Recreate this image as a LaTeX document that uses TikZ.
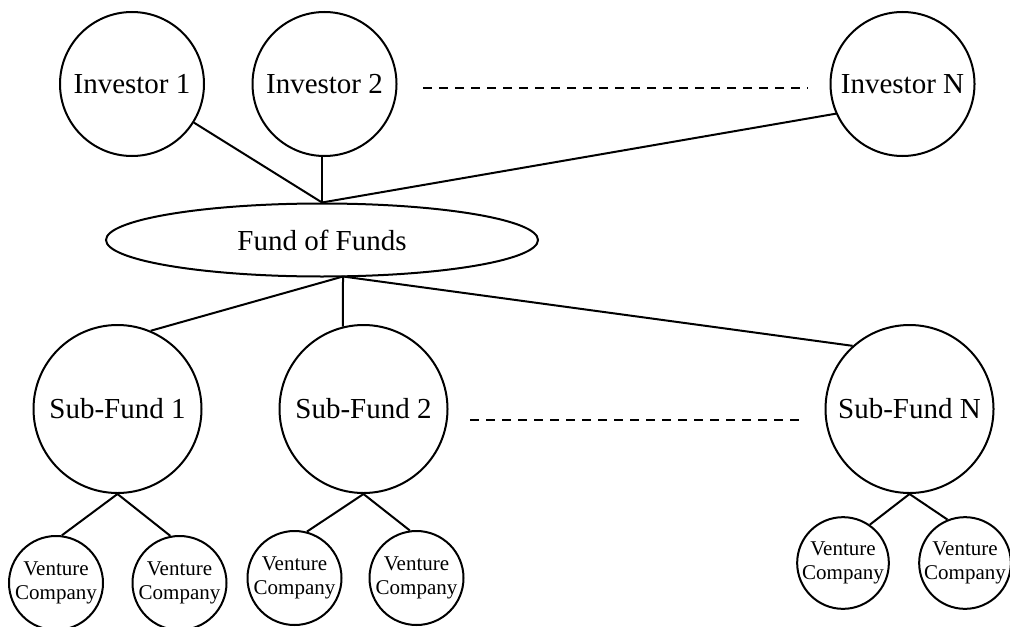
\documentclass[tikz,border=0pt]{standalone}
\usepackage{fontspec}
\setmainfont{Liberation Serif}
\usetikzlibrary{shapes.geometric,positioning}

\begin{document}
\begin{tikzpicture}[
    x=0.5pt, y=-0.5pt,
    investor/.style={circle, draw, line width=1pt, minimum size=72pt, inner sep=0pt, font=\fontsize{14.5}{17}\selectfont},
    subfund/.style={circle, draw, line width=1pt, minimum size=84pt, inner sep=0pt, font=\fontsize{14.5}{17}\selectfont},
    fund/.style={ellipse, draw, line width=1pt, minimum width=216pt, minimum height=36.5pt, inner sep=0pt, font=\fontsize{14.5}{17}\selectfont},
    venture/.style={circle, draw, line width=1pt, minimum size=47pt, inner sep=0pt, align=center, font=\fontsize{10.5}{12}\selectfont},
    link/.style={line width=1pt},
    dots/.style={line width=1pt, dash pattern=on 4.5pt off 3.5pt}
]
    \useasboundingbox (0,0) rectangle (1010,626);

    % --- Investors ---
    \node[investor] (inv1) at (132,84) {Investor 1};
    \node[investor] (inv2) at (324.5,84) {Investor 2};
    \node[investor] (invN) at (902.5,84) {Investor N};

    % --- Fund of Funds ---
    \node[fund] (fof) at (322,240) {Fund of Funds};
    \coordinate (hub-low) at (343,276.5);

    % --- Sub-Funds ---
    \node[subfund] (sf1) at (117.5,409) {Sub-Fund 1};
    \node[subfund] (sf2) at (363.5,409) {Sub-Fund 2};
    \node[subfund] (sfN) at (909.5,409) {Sub-Fund N};

    % --- Venture Companies ---
    \node[venture] (vc11) at (56,583) {Venture\\Company};
    \node[venture] (vc12) at (179.5,583) {Venture\\Company};
    \node[venture] (vc21) at (294.5,578) {Venture\\Company};
    \node[venture] (vc22) at (416.5,578) {Venture\\Company};
    \node[venture, minimum size=45pt] (vcN1) at (843,563) {Venture\\Company};
    \node[venture, minimum size=45pt] (vcN2) at (965,563) {Venture\\Company};

    % --- Connections ---
    \draw[link] (inv1) -- (fof.north);
    \draw[link] (fof.north |- inv2.south) -- (fof.north);
    \draw[link] (invN.204) -- (fof.north);

    \draw[link] (hub-low) -- (sf1.67);
    \draw[link] (hub-low) -- (sf2.104);
    \draw[link] (hub-low) -- (sfN.132);

    \draw[link] (sf1.south) -- (vc11.83);
    \draw[link] (sf1.south) -- (vc12.101);
    \draw[link] (sf2.south) -- (vc21.75);
    \draw[link] (sf2.south) -- (vc22.98);
    \draw[link] (sfN.south) -- (vcN1.55);
    \draw[link] (sfN.south) -- (vcN2.112);

    % --- Dots between N ---
    \coordinate (dots-top-l) at (423,88);
    \coordinate (dots-top-r) at (808,88);
    \coordinate (dots-low-l) at (470,420);
    \coordinate (dots-low-r) at (802,420);
    \draw[dots] (dots-top-l) -- (dots-top-r);
    \draw[dots] (dots-low-l) -- (dots-low-r);

\end{tikzpicture}
\end{document}
